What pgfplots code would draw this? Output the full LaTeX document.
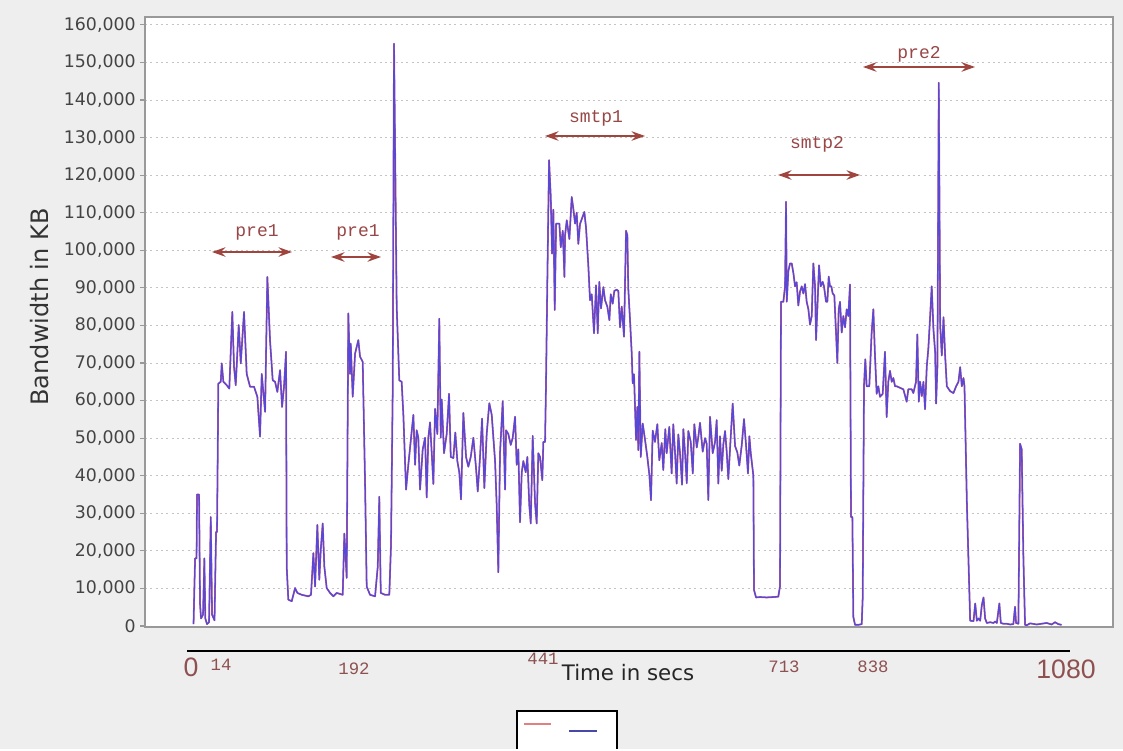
\documentclass[border=0pt]{standalone}
\usepackage{pgfplots}
\pgfplotsset{compat=1.18}
\usepackage{pgfplotstable}
\usepackage{fontspec}
\setmainfont{DejaVu Sans}
\newfontfamily\monofont{Liberation Mono}
\newfontfamily\thinfont{Liberation Sans}
\usetikzlibrary{arrows.meta}
\definecolor{bgcol}{HTML}{EEEEEE}
\definecolor{tickcol}{HTML}{444444}
\definecolor{gridcol}{HTML}{C4C4C4}
\definecolor{framecol}{HTML}{999999}
\definecolor{serblue}{HTML}{4444E8}
\definecolor{serred}{HTML}{D0607A}
\definecolor{annot}{HTML}{A0443E}
\definecolor{annottext}{HTML}{984646}
\definecolor{timetext}{HTML}{8E5050}
\definecolor{legred}{HTML}{E08080}
\definecolor{legblue}{HTML}{4848A8}

% time (s) and bandwidth (KB)
\pgfplotstableread{
t v
4.3 500
6.2 18000
8.0 18000
8.6 35000
11.1 35000
12.3 6000
13.5 2000
16.0 3000
17.6 18000
18.8 2000
20.9 500
23.4 1000
25.5 29000
27.1 3000
30.1 1500
32.0 25000
33.2 25000
34.8 64500
37.8 65000
39.0 69900
41.0 65000
45.1 64100
48.3 63200
52.0 83600
54.1 69000
56.2 64100
59.9 80100
62.4 69900
66.4 83600
69.7 67100
73.8 63700
78.7 63700
82.8 61000
86.1 50400
88.2 67100
92.3 57000
95.1 92900
98.4 76000
101.7 65400
104.6 65000
107.4 62300
110.7 68100
113.2 58300
115.6 63700
118.1 73000
118.9 15800
120.9 7000
125.1 6600
129.2 10100
132.0 8800
137.4 8300
145.5 7900
148.8 8300
151.7 19400
153.8 10500
156.6 26900
159.0 12300
160.8 20300
163.2 27300
165.2 15800
168.1 10100
172.2 8800
176.3 7900
180.4 8800
187.8 8300
189.8 24600
192.7 12800
194.7 83200
196.8 67100
197.7 75100
200.1 61000
203.0 72500
207.0 76100
209.1 71700
212.4 70300
215.3 37900
217.3 10500
221.4 8300
227.6 7900
230.9 15800
232.8 34400
234.6 8800
239.9 8300
245.1 8300
247.2 21600
249.3 62800
250.9 155000
254.2 84900
257.4 65400
260.3 65000
262.4 56200
265.7 36300
268.5 42900
271.4 49100
274.7 56200
276.8 42900
278.8 52100
280.8 50100
282.9 36300
286.2 47000
289.1 50100
291.1 34200
293.1 50100
295.2 54200
297.3 46000
299.3 37800
301.4 57800
304.2 51100
306.6 81800
308.4 50100
309.6 60300
312.4 46000
315.7 51100
318.6 61800
320.7 45000
323.9 44700
326.3 51500
328.8 43900
331.2 40900
333.3 33700
336.2 56700
339.5 45000
342.3 42400
345.3 45000
348.5 50100
351.8 42000
353.9 35800
356.7 45000
359.2 55200
362.0 36700
364.9 51100
368.1 59300
371.1 56200
375.2 43900
377.2 32200
379.2 14300
381.3 46000
384.6 59800
387.5 36300
388.7 52100
391.5 51100
394.5 48200
396.9 50100
399.8 55700
401.8 42900
403.8 47000
405.9 27600
408.0 40900
410.0 43900
412.9 40900
414.9 45000
417.3 32200
419.1 27300
421.5 50600
424.4 32600
426.4 27300
428.4 46000
430.5 45000
433.3 38800
434.6 49000
436.7 49000
437.9 65000
439.7 95000
441.6 124000
443.7 114200
445.3 99100
446.9 110800
448.6 84100
450.3 107100
454.3 107100
456.0 100800
458.5 105200
460.5 92900
461.3 104000
463.4 108000
466.6 103000
469.5 114200
471.5 111000
473.6 107100
475.6 110000
477.6 101700
479.7 107000
483.0 109000
485.0 110200
487.1 106000
489.9 96000
492.0 86700
494.1 88300
496.9 77900
499.4 90700
501.5 77900
503.4 91600
505.5 84500
508.4 90200
510.5 86700
513.3 85000
515.8 81400
517.5 88300
519.9 85800
521.9 89200
524.8 89500
526.8 89200
528.9 79500
531.0 85000
533.8 77000
536.3 105200
537.9 104000
539.1 89700
541.2 81400
543.3 72500
544.5 64600
546.1 67000
548.6 49500
550.2 58300
551.4 46800
552.7 73000
554.4 45000
556.8 53900
559.7 49500
562.5 45000
565.0 40200
567.0 33500
569.1 52000
571.9 49000
574.8 53700
577.2 44100
580.2 48700
582.1 41500
584.6 52400
586.3 46000
589.5 53000
592.4 40600
594.4 53700
596.6 46000
598.6 37900
600.6 51000
602.7 46000
605.2 37600
606.8 52400
608.9 46000
611.0 38000
612.9 51900
615.9 49000
618.4 40600
620.3 53700
623.3 47500
625.2 50300
627.3 54100
630.6 46400
633.5 50000
635.5 48500
637.5 33500
639.6 55700
642.9 46000
645.8 49000
647.8 54800
649.8 37900
651.9 50500
654.0 41300
656.0 48400
658.1 51900
660.1 46500
662.1 39100
665.1 50500
667.5 59200
670.4 47900
673.2 46200
675.6 42700
678.6 48100
681.4 55100
683.9 48100
686.3 40600
688.0 50500
689.7 46000
691.7 42300
692.9 40000
693.7 9600
696.2 7600
701.1 7700
709.3 7600
717.5 7700
723.6 7800
725.7 10600
726.9 86300
729.8 86300
731.9 90400
733.1 112900
734.0 86300
736.0 94500
738.0 96500
740.1 96500
742.1 94000
744.2 90400
746.2 91500
748.2 85300
750.3 89000
752.4 90400
754.4 88500
756.5 91000
758.5 86300
760.6 84300
762.6 80200
764.7 82500
766.7 96500
768.8 90400
770.0 76100
771.6 84300
773.7 96000
775.8 90400
778.2 91600
779.8 90400
782.3 86300
783.9 86300
785.6 93000
787.2 90400
788.8 90400
790.5 88500
792.5 88000
794.6 78100
796.2 70000
797.9 84300
799.5 86300
801.6 78100
803.6 82500
805.7 79500
807.7 84300
809.7 82500
811.8 90900
813.0 29000
814.7 29000
815.9 2400
818.0 300
822.0 300
826.2 500
827.4 7500
829.0 63800
830.6 71000
832.3 63800
835.5 63800
838.4 78000
840.5 84300
842.5 72000
844.6 61800
846.6 63800
848.7 61000
852.0 61800
854.8 73000
856.9 55600
858.9 65000
861.0 67900
863.1 65000
865.1 66000
867.2 63800
869.2 63800
873.3 63400
877.4 63000
881.5 59700
883.5 63000
887.7 63000
889.7 62000
893.0 65000
894.6 77600
896.4 59700
898.0 65000
900.1 61200
902.1 65000
904.1 57700
906.2 69000
908.2 74000
910.3 82200
912.3 90400
914.4 79000
916.5 73000
917.7 59200
919.3 69000
921.0 144600
922.7 80000
924.7 72000
926.8 82200
928.8 72000
930.9 63800
935.0 62500
939.0 62000
942.3 63800
945.2 65000
947.3 68900
949.3 63800
951.4 66000
952.6 63800
955.5 33100
959.6 1400
963.7 1300
965.8 6000
967.8 1400
969.8 2000
971.9 1400
973.9 5500
976.0 7600
978.0 2000
980.1 800
984.2 1000
988.3 800
990.3 1200
992.4 800
995.5 6000
997.3 800
1000.5 600
1004.6 600
1008.7 400
1012.7 500
1014.8 5100
1016.0 800
1018.9 600
1021.0 48500
1023.0 47000
1025.1 17800
1027.1 300
1029.2 200
1033.2 700
1041.4 400
1053.7 800
1059.8 400
1064.0 1000
1068.0 500
1072.0 300
}\bwdata

\begin{document}
\begin{tikzpicture}
\fill[bgcol] (0,0) rectangle (842.25pt,561.75pt);
\begin{axis}[
  at={(108.75pt,91.5pt)}, anchor=south west,
  scale only axis, width=726pt, height=457.5pt,
  xmin=-55.4, xmax=1135.3, ymin=-270, ymax=162100,
  axis background/.style={fill=white},
  axis line style={framecol, line width=0.8pt},
  xtick=\empty,
  ytick={0,10000,...,160000},
  ytick pos=left,
  tick align=outside, major tick length=3.5pt,
  y tick style={framecol, line width=0.8pt},
  scaled y ticks=false,
  /pgf/number format/assume math mode=true,
  /pgf/number format/fixed,
  /pgf/number format/1000 sep={,},
  yticklabel style={font=\fontsize{13}{13}\selectfont, color=tickcol},
  ymajorgrids,
  grid style={gridcol, dash pattern=on 1.5pt off 2.5pt, line width=0.7pt},
]
\addplot[serred, line width=1.3pt, line join=round] table[x=t, y=v] {\bwdata};
\addplot[serblue, line width=1.0pt, opacity=0.85, line join=round] table[x=t, y=v] {\bwdata};
\end{axis}

\begin{scope}[x=0.75pt, y=-0.75pt, yshift=561.75pt]
  % phase annotations
  \tikzset{phase/.style={annot, line width=1.5pt, {Stealth[length=10pt,width=7pt]}-{Stealth[length=10pt,width=7pt]}},
           phasetxt/.style={annottext, font=\monofont\fontsize{13.5}{14}\selectfont}}
  \draw[phase] (212,252) -- (292,252);
  \node[phasetxt] at (257,232) {pre1};
  \draw[phase] (331,257) -- (381,257);
  \node[phasetxt] at (358,232) {pre1};
  \draw[phase] (545,136) -- (645,136);
  \node[phasetxt] at (596,118) {smtp1};
  \draw[phase] (778,175) -- (860,175);
  \node[phasetxt] at (817,144) {smtp2};
  \draw[phase] (863,67) -- (975,67);
  \node[phasetxt] at (919,54) {pre2};

  % y label
  \node[rotate=90, font=\fontsize{18}{18}\selectfont, color=black!80] at (40,307) {Bandwidth in KB};

  % time line below the plot
  \draw[black, line width=2pt] (187,651) -- (1070,651);
  \node[timetext, font=\thinfont\fontsize{20}{20}\selectfont] at (191,667) {0};
  \node[timetext, font=\thinfont\fontsize{20}{20}\selectfont] at (1066,669) {1080};
  \tikzset{tl/.style={timetext, font=\monofont\fontsize{13}{13}\selectfont}}
  \node[tl] at (221,665) {14};
  \node[tl] at (354,669) {192};
  \node[tl] at (543,659) {441};
  \node[tl] at (784,667) {713};
  \node[tl] at (873,667) {838};
  \node[font=\fontsize{16}{16}\selectfont, color=black!85] at (628,673) {Time in secs};

  % legend
  \fill[white] (517,711) rectangle (617,749);
  \draw[black, line width=1.5pt] (517,749) -- (517,711) -- (617,711) -- (617,749);
  \draw[legred, line width=1.3pt] (524,724) -- (551,724);
  \draw[legblue, line width=1.3pt] (569,731) -- (597,731);
\end{scope}
\end{tikzpicture}
\end{document}
